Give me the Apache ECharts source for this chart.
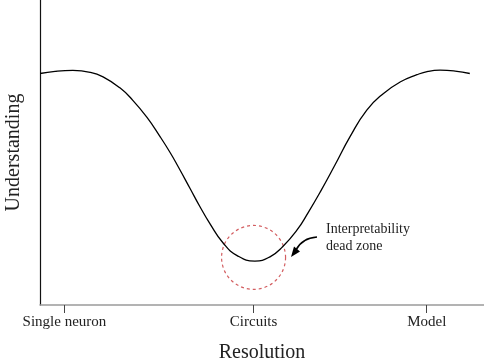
<!DOCTYPE html>
<html>
<head>
<meta charset="utf-8">
<script src="https://cdn.jsdelivr.net/npm/echarts@6/dist/echarts.min.js"></script>
<style>
  html, body { margin: 0; padding: 0; background: #fff; }
  #chart { width: 484px; height: 360px; }
</style>
</head>
<body>
<div id="chart"></div>
<script>
// resolution (0-100) vs understanding (0-100)
var resolution = [0, 3.4, 7.4, 11.3, 14.2, 18.0, 20.9, 24.1, 27.0, 29.3, 31.1, 33.8, 36.0, 38.3, 41.2, 44.4, 48.4,
  51.8, 54.7, 57.9, 60.4, 63.1, 66.4, 69.8, 73.6, 77.3, 81.1, 84.9, 87.4, 90.1, 93.5, 96.8];
var understanding = [75.9, 76.6, 76.9, 76.3, 74.8, 71.2, 67.1, 61.5, 55.3, 50.0, 45.4, 38.2, 32.3, 26.6, 20.4, 16.2, 14.4,
  15.8, 19.2, 24.6, 30.3, 37.0, 45.8, 55.1, 63.9, 69.3, 73.1, 75.5, 76.6, 77.0, 76.7, 75.9];
var tickValues = [5.5, 48.1, 87.1];
var tickNames = ['Single neuron', 'Circuits', 'Model'];
var deadZone = [48.1, 15.6];

var serif = '"Liberation Serif", "DejaVu Serif", serif';

var myChart = echarts.init(document.getElementById('chart'));

var option = {
  animation: false,
  grid: { left: 40, right: 0, top: 0, bottom: 55, outerBoundsMode: 'none', containLabel: false },
  xAxis: {
    type: 'value',
    min: 0,
    max: 100,
    name: 'Resolution',
    nameLocation: 'middle',
    nameGap: 38,
    nameTextStyle: { fontFamily: serif, fontSize: 20, color: '#222' },
    axisLine: { lineStyle: { color: '#9a9a9a', width: 1.5 } },
    axisTick: {
      show: true,
      customValues: tickValues,
      length: 8,
      lineStyle: { color: '#444', width: 1 }
    },
    axisLabel: {
      customValues: tickValues,
      margin: 10,
      fontFamily: serif,
      fontSize: 15,
      color: '#222',
      formatter: function (v) {
        var i = tickValues.indexOf(v);
        return i >= 0 ? tickNames[i] : '';
      }
    },
    splitLine: { show: false }
  },
  yAxis: {
    type: 'value',
    min: 0,
    max: 100,
    name: 'Understanding',
    nameLocation: 'middle',
    nameGap: 16,
    nameTextStyle: { fontFamily: serif, fontSize: 20, color: '#222' },
    axisLine: { show: true, lineStyle: { color: '#111', width: 1.2 } },
    axisTick: { show: false },
    axisLabel: { show: false },
    splitLine: { show: false }
  },
  series: [
    {
      type: 'line',
      smooth: 0.5,
      symbol: 'none',
      lineStyle: { color: '#000', width: 1.3 },
      data: resolution.map(function (x, i) { return [x, understanding[i]]; })
    },
    {
      // dashed circle around the dip
      type: 'scatter',
      symbol: 'circle',
      symbolSize: 64,
      itemStyle: {
        color: 'rgba(0,0,0,0)',
        borderColor: '#c8363a',
        borderWidth: 1.2,
        borderType: [3, 3]
      },
      data: [deadZone]
    }
  ],
  graphic: [
    {
      type: 'bezierCurve',
      shape: { x1: 317, y1: 237, cpx1: 302, cpy1: 238, x2: 296, y2: 250 },
      style: { stroke: '#000', lineWidth: 1.6, fill: null }
    },
    {
      type: 'polygon',
      shape: { points: [[291, 257], [300, 251.5], [294, 246.5]] },
      style: { fill: '#000' }
    },
    {
      type: 'text',
      style: {
        x: 326,
        y: 221,
        text: 'Interpretability\ndead zone',
        fontFamily: serif,
        fontSize: 14,
        lineHeight: 17,
        fill: '#222'
      }
    }
  ]
};

myChart.setOption(option);
</script>
</body>
</html>
